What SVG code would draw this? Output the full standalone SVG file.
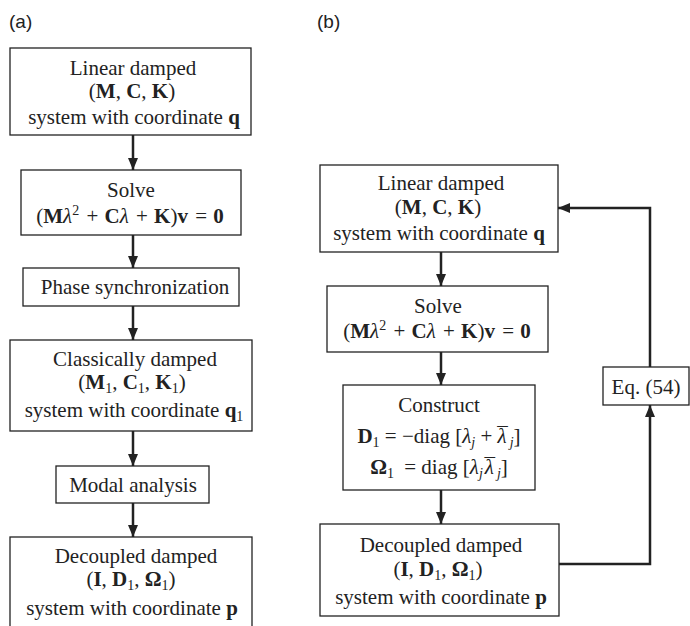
<svg xmlns="http://www.w3.org/2000/svg" width="690" height="626" viewBox="0 0 690 626">
<style>
.box{fill:#fff;stroke:#222;stroke-width:1.3}
.t{font-family:"Liberation Serif","Times New Roman",serif;font-size:21px;fill:#222;text-anchor:middle}
.lab{font-family:"Liberation Sans",Arial,sans-serif;font-size:19px;fill:#222}
.b{font-weight:bold}
.i{font-style:italic}
.s{font-size:14px}
.c{fill:none;stroke:#222;stroke-width:2.5}
</style>
<defs>
<marker id="ah" markerUnits="userSpaceOnUse" markerWidth="12" markerHeight="10" refX="12" refY="5" orient="auto">
<path d="M0,0 L12,5 L0,10 z" fill="#222"/>
</marker>
</defs>
<rect width="690" height="626" fill="#fff"/>
<text class="lab" x="9" y="28">(a)</text>
<text class="lab" x="317" y="28">(b)</text>

<g id="a1">
<rect class="box" x="10" y="48" width="241" height="87"/>
<text class="t" x="133" y="75">Linear damped</text>
<text class="t" x="132" y="98">(<tspan class="b">M</tspan>, <tspan class="b">C</tspan>, <tspan class="b">K</tspan>)</text>
<text class="t" x="134" y="124">system with coordinate <tspan class="b">q</tspan></text>
</g>
<g id="a2">
<rect class="box" x="21" y="170" width="220" height="65"/>
<text class="t" x="131" y="197">Solve</text>
<text class="t" x="130" y="223">(<tspan class="b">M</tspan><tspan class="i">λ</tspan><tspan class="s" dy="-8">2</tspan><tspan dy="8" dx="2"> + </tspan><tspan class="b" dx="1">C</tspan><tspan class="i">λ</tspan><tspan dx="2"> + </tspan><tspan class="b" dx="1">K</tspan>)<tspan class="b">v</tspan><tspan dx="2"> = </tspan><tspan class="b" dx="1">0</tspan></text>
</g>
<g id="a3">
<rect class="box" x="23" y="268" width="216" height="38"/>
<text class="t" x="135" y="294">Phase synchronization</text>
</g>
<g id="a4">
<rect class="box" x="10" y="340" width="242" height="91"/>
<text class="t" x="135" y="366">Classically damped</text>
<text class="t" x="132" y="389">(<tspan class="b">M</tspan><tspan class="s" dy="4">1</tspan><tspan dy="-4">, </tspan><tspan class="b">C</tspan><tspan class="s" dy="4">1</tspan><tspan dy="-4">, </tspan><tspan class="b">K</tspan><tspan class="s" dy="4">1</tspan><tspan dy="-4">)</tspan></text>
<text class="t" x="134" y="417">system with coordinate <tspan class="b">q</tspan><tspan class="s" dy="4">1</tspan></text>
</g>
<g id="a5">
<rect class="box" x="56" y="466" width="153" height="37"/>
<text class="t" x="133" y="492">Modal analysis</text>
</g>
<g id="a6">
<rect class="box" x="10" y="537" width="242" height="92"/>
<text class="t" x="136" y="563">Decoupled damped</text>
<text class="t" x="131" y="586">(<tspan class="b">I</tspan>, <tspan class="b">D</tspan><tspan class="s" dy="4">1</tspan><tspan dy="-4">, </tspan><tspan class="b">Ω</tspan><tspan class="s" dy="4">1</tspan><tspan dy="-4">)</tspan></text>
<text class="t" x="132" y="615">system with coordinate <tspan class="b">p</tspan></text>
</g>

<g id="b1">
<rect class="box" x="320" y="165" width="238" height="87"/>
<text class="t" x="441" y="190">Linear damped</text>
<text class="t" x="438" y="214">(<tspan class="b">M</tspan>, <tspan class="b">C</tspan>, <tspan class="b">K</tspan>)</text>
<text class="t" x="439" y="240">system with coordinate <tspan class="b">q</tspan></text>
</g>
<g id="b2">
<rect class="box" x="327" y="286" width="221" height="66"/>
<text class="t" x="438" y="313">Solve</text>
<text class="t" x="437" y="338">(<tspan class="b">M</tspan><tspan class="i">λ</tspan><tspan class="s" dy="-8">2</tspan><tspan dy="8" dx="2"> + </tspan><tspan class="b" dx="1">C</tspan><tspan class="i">λ</tspan><tspan dx="2"> + </tspan><tspan class="b" dx="1">K</tspan>)<tspan class="b">v</tspan><tspan dx="2"> = </tspan><tspan class="b" dx="1">0</tspan></text>
</g>
<g id="b3">
<rect class="box" x="343" y="385" width="192" height="105"/>
<text class="t" x="439" y="412">Construct</text>
<text class="t" x="439" y="443"><tspan class="b">D</tspan><tspan class="s" dy="4">1</tspan><tspan dy="-4"> = −diag [</tspan><tspan class="i">λ</tspan><tspan class="s i" dy="4">j</tspan><tspan dy="-4"> + </tspan><tspan class="i">λ</tspan><tspan dx="-9.5" dy="-1">¯</tspan><tspan class="s i" dx="2" dy="5">j</tspan><tspan dy="-4">]</tspan></text>
<text class="t" x="439" y="474"><tspan class="b">Ω</tspan><tspan class="s" dy="4">1</tspan><tspan dy="-4" dx="5"> = diag [</tspan><tspan class="i">λ</tspan><tspan class="s i" dy="4">j</tspan><tspan class="i" dy="-4" dx="2">λ</tspan><tspan dx="-9.5" dy="-1">¯</tspan><tspan class="s i" dx="2" dy="5">j</tspan><tspan dy="-4">]</tspan></text>
</g>
<g id="b4">
<rect class="box" x="320" y="524" width="239" height="92"/>
<text class="t" x="441" y="552">Decoupled damped</text>
<text class="t" x="438" y="576">(<tspan class="b">I</tspan>, <tspan class="b">D</tspan><tspan class="s" dy="4">1</tspan><tspan dy="-4">, </tspan><tspan class="b">Ω</tspan><tspan class="s" dy="4">1</tspan><tspan dy="-4">)</tspan></text>
<text class="t" x="441" y="604">system with coordinate <tspan class="b">p</tspan></text>
</g>
<g id="b5">
<rect class="box" x="603" y="367" width="86" height="38"/>
<text class="t" x="646" y="394">Eq. (54)</text>
</g>

<g id="connectors">
<line class="c" x1="133" y1="135" x2="133" y2="170" marker-end="url(#ah)"/>
<line class="c" x1="133" y1="235" x2="133" y2="268" marker-end="url(#ah)"/>
<line class="c" x1="133" y1="306" x2="133" y2="340" marker-end="url(#ah)"/>
<line class="c" x1="133" y1="431" x2="133" y2="466" marker-end="url(#ah)"/>
<line class="c" x1="133" y1="503" x2="133" y2="537" marker-end="url(#ah)"/>
<line class="c" x1="441" y1="252" x2="441" y2="286" marker-end="url(#ah)"/>
<line class="c" x1="441" y1="352" x2="441" y2="385" marker-end="url(#ah)"/>
<line class="c" x1="441" y1="490" x2="441" y2="524" marker-end="url(#ah)"/>
<polyline class="c" points="559,564 650,564 650,405" marker-end="url(#ah)"/>
<polyline class="c" points="650,367 650,208 558,208" marker-end="url(#ah)"/>
</g>
</svg>
